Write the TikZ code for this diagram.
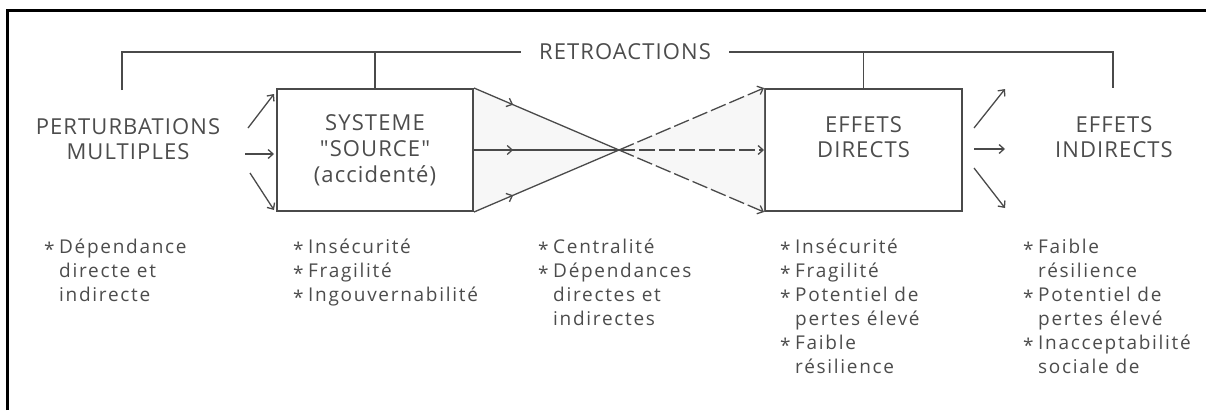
\documentclass[tikz,border=0pt]{standalone}
\usepackage{fontspec}
\setmainfont{Open Sans}
\newfontfamily\capsfont[LetterSpace=5]{Open Sans}
\newfontfamily\bodyfont[LetterSpace=9]{Open Sans}
\usetikzlibrary{arrows.meta,decorations.markings,calc}
\definecolor{ink}{HTML}{4A4A4A}
\definecolor{txt}{HTML}{4C4C4C}
\newcommand\bl{\makebox[15pt][l]{\raisebox{-3pt}{*}}}
\newcommand\cn{\hspace*{15pt}}
\newcommand\fs{\rule{0pt}{16pt}}
\begin{document}
\begin{tikzpicture}[x=1pt,y=-1pt,
  line/.style={draw=ink,line width=1.3pt},
  arr/.style={line,-{Straight Barb[length=5pt,width=9pt]}},
  midarr/.style={line,postaction={decorate},decoration={markings,mark=at position 0.27 with {\arrow{Straight Barb[length=5pt,width=9pt]}}}},
  dsh/.style={line,dash pattern=on 16pt off 4pt,-{Straight Barb[length=5pt,width=9pt]}},
  box/.style={draw=ink,line width=2pt,minimum width=196pt,minimum height=122pt,inner sep=0pt,font=\capsfont\fontsize{22}{26}\selectfont,text=txt,align=center},
  lab/.style={font=\capsfont\fontsize{22}{24.5}\selectfont,text=txt,align=center,inner sep=0pt},
  col/.style={font=\bodyfont\fontsize{19}{24}\selectfont,text=txt,align=left,anchor=north west,inner sep=0pt},
  shade/.style={fill=black!3}
]
\useasboundingbox (0,0) rectangle (1206,410);
% frame
\draw[line width=3pt,black] (7,410) -- (7,10) -- (1206,10);

% boxes and labels
\node[box] (b1) at (375,150) {SYSTEME\\"SOURCE"\\(accidenté)};
\node[box,minimum width=197pt] (b2) at (863.5,150) {};
\node[lab] (ed) at (863.5,137) {EFFETS\\DIRECTS};
\node[lab] (pert) at (128,139) {PERTURBATIONS\\MULTIPLES};
\node[lab] (ei) at (1114,137) {EFFETS\\INDIRECTS};
\node[lab] (retro) at (625,52) {RETROACTIONS};

% crossing between the two boxes
\coordinate (X) at (619,150);
\fill[shade] (b1.north east) -- (X) -- (b1.south east) -- cycle;
\fill[shade] (b2.north west) -- (X) -- (b2.south west) -- cycle;
\draw[midarr] (b1.north east) -- (X);
\draw[midarr] (b1.east) -- (X);
\draw[midarr] (b1.south east) -- (X);
\draw[dsh] (X) -- (b2.south west);
\draw[dsh] (X) -- (b2.west);
\draw[dsh] (X) -- (b2.north west);

% feedback bracket
\coordinate (tl) at (122,90);
\coordinate (tr) at (1113,88);
\draw[line] (tl) |- ([xshift=-18pt]retro.west);
\draw[line] ([xshift=18pt]retro.east) -| (tr);
\draw[line] (b1.north) -- (b1.north |- retro);
\draw[line] (b2.north) -- (b2.north |- retro);

% input arrows
\coordinate (i1) at (248,128);
\coordinate (i2) at (245,154);
\coordinate (i3) at (250,173);
\draw[arr] (i1) -- ($(b1.north west)+(-2,6)$);
\draw[arr] (i2) -- ($(b1.west)+(-2,4)$);
\draw[arr] (i3) -- ($(b1.south west)+(-2,-2)$);

% output arrows
\coordinate (o1s) at (974,128);
\coordinate (o1e) at (1005,89);
\coordinate (o2s) at (974,149);
\coordinate (o2e) at (1005,149);
\coordinate (o3s) at (974,168);
\coordinate (o3e) at (1005,208);
\draw[arr] (o1s) -- (o1e);
\draw[arr] (o2s) -- (o2e);
\draw[arr] (o3s) -- (o3e);

% bottom lists
\node[col] (c1) at (44,237) {\fs\bl Dépendance\\\cn directe et\\\cn indirecte};
\node[col] (c2) at (293,237) {\fs\bl Insécurité\\\bl Fragilité\\\bl Ingouvernabilité};
\node[col] (c3) at (538,237) {\fs\bl Centralité\\\bl Dépendances\\\cn directes et\\\cn indirectes};
\node[col] (c4) at (780,237) {\fs\bl Insécurité\\\bl Fragilité\\\bl Potentiel de\\\cn pertes élevé\\\bl Faible\\\cn résilience};
\node[col] (c5) at (1023,237) {\fs\bl Faible\\\cn résilience\\\bl Potentiel de\\\cn pertes élevé\\\bl Inacceptabilité\\\cn sociale de};
\end{tikzpicture}
\end{document}
